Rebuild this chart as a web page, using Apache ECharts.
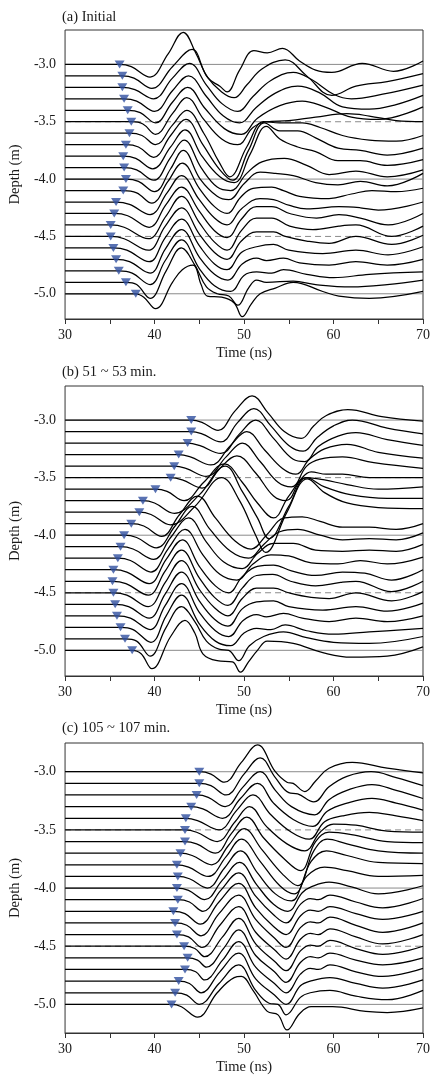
<!DOCTYPE html>
<html><head><meta charset="utf-8">
<script src="https://cdn.jsdelivr.net/npm/echarts@6/dist/echarts.min.js"></script>
<style>html,body{margin:0;padding:0;background:#fff}#c{width:433px;height:1077px}</style>
</head><body><div id="c"></div>
<script>
// ---------- DATA ----------
const TIME_MIN = 30, TIME_MAX = 70;
const TIME_TICKS = [30, 35, 40, 45, 50, 55, 60, 65, 70];
const DEPTHS = [-3.0,-3.1,-3.2,-3.3,-3.4,-3.5,-3.6,-3.7,-3.8,-3.9,-4.0,-4.1,-4.2,-4.3,-4.4,-4.5,-4.6,-4.7,-4.8,-4.9,-5.0];
const DEPTH_LABELS = [-3.0, -3.5, -4.0, -4.5, -5.0];
const SOLID_REF = [-3.0, -4.0, -5.0];
const DASHED_REF = [-3.5, -4.5];
const TITLES = ['(a) Initial', '(b) 51 ~ 53 min.', '(c) 105 ~ 107 min.'];

// first-arrival picks (ns), one per depth
const ARRIVAL_A = [36.1,36.4,36.4,36.6,37.0,37.4,37.2,36.8,36.5,36.6,36.8,36.5,35.7,35.5,35.1,35.1,35.4,35.7,36.0,36.8,37.9];
const ARRIVAL_B = [44.1,44.1,43.7,42.7,42.2,41.8,40.1,38.7,38.3,37.4,36.6,36.2,35.9,35.4,35.3,35.4,35.6,35.8,36.2,36.7,37.5];
const ARRIVAL_C = [45.0,45.0,44.7,44.1,43.5,43.4,43.4,42.9,42.5,42.6,42.5,42.6,42.1,42.3,42.5,43.3,43.7,43.4,42.7,42.3,41.9];

// trace samples after the arrival: [time ns, deflection in 0.01 m of the depth axis]
const TRACE_A = [
[[37.4,-2],[39.5,-11],[41.5,9],[43.2,28],[44.6,10],[46,-12],[47.3,-19],[48.1,-24],[49.5,-5],[51.1,12],[52.6,10],[54.3,14],[56.2,3],[58,-5],[59.8,-7],[63.2,1],[66.7,-6],[70,3]],
[[37.7,-2],[39.7,-11],[42,8],[44.2,23],[45.8,0],[47.5,-14],[48.9,-19],[50.3,-8],[52,6],[54.6,14],[57,0],[59.8,-17],[62.5,-9],[66,-5],[70,2]],
[[37.8,-2],[39.9,-10],[42,8],[43.9,21],[45.8,2],[47.5,-14],[49.3,-21],[51,-8],[53,6],[55.5,13],[57.5,7],[60,-6],[62,-10],[65.5,-6],[70,2]],
[[38,-2],[40,-11],[42,7],[43.8,20],[45.8,2],[47.7,-15],[49.5,-21],[51.3,-8],[53.5,5],[56,11],[58.5,5],[61,-7],[64,-9],[67,-5],[70,3]],
[[38.4,-2],[40.1,-11],[42,7],[43.7,20],[45.6,2],[47.8,-16],[49.7,-21],[51.5,-7],[54,4],[56.5,8],[59,3],[62,-6],[65,-8],[70,3]],
[[38.7,-2],[40.1,-11],[42,7],[43.6,21],[45.5,2],[47.5,-15],[49.3,-20],[51,-5],[52.5,0],[55,1],[58,4],[61.5,7],[64,5],[67,1],[70,0]],
[[38.6,-2],[40.1,-10],[42,7],[43.6,20],[45.5,0],[47.2,-25],[48.4,-38],[50.3,-12],[52.2,10],[54,9],[56.5,9],[58.5,5],[61,-2],[64,-6],[67,-7],[70,-2]],
[[38.2,-2],[39.9,-11],[41.8,8],[43.5,22],[45.4,0],[47.3,-22],[48.7,-31],[50.5,-5],[52.3,19],[54,12],[56,12],[58,6],[60.5,-3],[63,-5],[66,-9],[70,-3]],
[[37.9,-2],[39.8,-11],[41.8,8],[43.4,23],[45.3,0],[47.3,-18],[48.9,-23],[50.7,2],[52.5,26],[54,15],[56,8],[58,4],[60.5,-4],[63,-4],[66,-8],[70,-3]],
[[38,-2],[39.9,-11],[41.8,9],[43.3,24],[45.2,0],[47,-17],[48.5,-20],[50.3,-5],[52,5],[54.5,8],[57,2],[59.5,-6],[62.5,-3],[66,-8],[70,-2]],
[[38.2,-2],[40,-11],[41.8,9],[43.2,25],[45.1,0],[47,-15],[48.3,-18],[50,-4],[51.8,6],[53.5,5],[55.5,3],[58,-3],[60.5,-5],[63,-2],[66,-6],[70,5]],
[[38,-2],[39.7,-11],[41.5,8],[43.1,24],[45,2],[46.7,-14],[48.1,-20],[49.6,-6],[51,2],[53.1,3],[54.4,0],[56.2,-5],[59.5,-7],[62,-3],[64.3,0],[67,-1],[70,2]],
[[37.2,-2],[39.5,-11],[41.4,8],[43,23],[45,2],[46.7,-14],[48.1,-20],[49.7,-6],[51.8,3],[53.3,2],[55.1,-3],[57,-6],[60.6,-4],[63,-5],[65,-7],[70,0]],
[[37,-2],[39.4,-12],[41.3,8],[43,23],[45,2],[46.7,-15],[48.1,-21],[49.7,-5],[51.4,6],[53.1,6],[55.1,0],[58.1,-4],[60.6,-1],[63,-4],[66.1,-10],[70,0]],
[[36.6,-2],[39.3,-12],[41.3,8],[43,25],[45,2],[46.7,-15],[48.1,-22],[49.7,-5],[51.4,6],[53.1,6],[55.1,-1],[57.7,-4],[60.6,-1],[62.5,0],[66.5,-10],[70,-1]],
[[36.6,-2],[39.3,-12],[41.2,9],[43,25],[45,2],[46.7,-14],[48.1,-20],[49.7,-4],[51.4,4],[53.3,4],[54.6,0],[57,-4],[59.5,-6],[62.5,0],[66.5,-7],[70,1]],
[[36.9,-2],[39.4,-12],[41.2,9],[43,25],[45,2],[46.7,-14],[48.1,-19],[49.7,-4],[51.4,1],[53.3,3],[55,-2],[58.8,-5],[62.5,-2],[66.1,-6],[70,1]],
[[37.2,-2],[39.5,-12],[41.2,9],[43,26],[45,2],[46.7,-13],[48.2,-18],[49.8,-4],[51.4,1],[52.5,-1],[54.4,1],[56.2,-3],[59.5,-5],[62.5,-2],[66,-5],[70,0]],
[[37.5,-2],[39.5,-12],[41.2,9],[43,27],[45,2],[46.7,-13],[48.5,-18],[50,-4],[51.4,-1],[53.1,-2],[54.4,1],[57,-3],[60,-6],[64,-3],[70,-1]],
[[38,-2],[39.5,-14],[41.3,10],[43,30],[44.5,15],[45.8,-4],[47,-10],[48.3,-12],[49.3,-20],[50.5,-5],[51.4,2],[52.5,0],[55.5,1],[58,-2],[62,-4],[66,-2],[70,2]],
[[38.8,-3],[40.1,-13],[42,10],[43.1,21],[44.3,25],[45.2,8],[45.9,-2],[47.5,-3],[48.9,-8],[49.8,-20],[50.8,-9],[51.8,0],[53.5,5],[55.5,10],[58.8,2],[60.6,-2],[64,-4],[70,2]]
];

const TRACE_B = [
[[45.3,-2],[47.1,-9],[49,8],[50.9,21],[52.7,6],[54.5,-10],[56.4,-16],[57.8,-5],[59.2,4],[61.6,9],[65.4,3],[70,-1]],
[[45.3,-2],[47.4,-9],[49.3,8],[51.1,20],[53,5],[55,-12],[56.6,-17],[58.2,-5],[60,5],[62.1,10],[66,3],[70,-2]],
[[45,-2],[47.4,-9],[49.5,8],[51.3,20],[53.2,5],[55.5,-14],[56.8,-16],[58.3,-3],[60.5,6],[62.5,9],[66,3],[70,-2]],
[[44,-2],[46.3,-9],[48.5,8],[50.3,20],[52.3,4],[54.3,-12],[55.8,-17],[57.3,-4],[59,5],[61.5,9],[65,2],[70,-3]],
[[43.5,-2],[45.8,-9],[48,8],[49.8,20],[51.8,4],[53.8,-14],[55.3,-18],[57,0],[58.5,6],[61,8],[64.5,3],[70,-2]],
[[43.1,-2],[45.3,-9],[47.3,8],[49.2,19],[51.3,4],[53.3,-16],[54.7,-20],[56.3,-2],[57.5,5],[59.2,3],[61,3],[64,0],[70,0]],
[[41.4,-2],[43.3,-10],[45.5,6],[47.8,22],[49.8,6],[51.5,-12],[53.3,-25],[55,-6],[57,10],[59,8],[61.5,4],[65,0],[70,2]],
[[40,-2],[42.2,-11],[45,5],[47.9,30],[49.8,8],[51.5,-15],[52.8,-33],[55,-5],[57,20],[59,12],[62,5],[66,2],[70,2]],
[[39.6,-2],[41.8,-11],[44.5,5],[47.5,30],[49.5,10],[51.3,-20],[52.4,-35],[54.8,0],[57.1,29],[59,17],[61.5,8],[65,4],[70,3]],
[[38.8,-2],[40.8,-11],[42.8,8],[44.8,24],[46.8,5],[49,-15],[50.8,-22],[52.5,-10],[54.5,5],[56.5,6],[58.5,2],[61,-3],[64,-3],[67,-5],[70,0]],
[[38,-2],[40.2,-11],[42.3,8],[44.2,25],[46.2,5],[48.5,-14],[50.5,-20],[52.2,-8],[54,3],[56,5],[58.5,0],[61,-4],[64,-3],[67,-4],[70,2]],
[[37.6,-2],[39.9,-11],[41.8,8],[43.8,25],[45.8,4],[47.7,-13],[49.8,-19],[51.5,-6],[53.3,3],[55.5,3],[58,-3],[61,-4],[64,-3],[67,-4],[70,2]],
[[37.3,-2],[39.6,-12],[41.5,8],[43.4,25],[45.4,3],[47.3,-14],[49.2,-19],[51,-5],[53,3],[55,2],[57.5,-4],[60.5,-5],[63,-2],[66,-5],[70,1]],
[[36.9,-2],[39.4,-12],[41.3,9],[43.1,26],[45,3],[46.8,-14],[48.3,-20],[49.8,-6],[51.5,3],[53.3,4],[55.3,-1],[58,-5],[61,-2],[63.5,-3],[66.5,-9],[70,0]],
[[36.8,-2],[39.3,-12],[41.2,9],[43,27],[45,3],[46.7,-14],[48.2,-21],[49.8,-6],[51.4,5],[53.2,6],[55.2,0],[58,-4],[60.8,-1],[62.5,0],[66.5,-9],[70,0]],
[[36.9,-2],[39.3,-12],[41.2,9],[43,28],[45,3],[46.7,-13],[48.2,-20],[49.8,-5],[51.4,4],[53.3,4],[55,0],[57.5,-4],[59.5,-5],[62.5,0],[66.5,-7],[70,1]],
[[37.1,-2],[39.4,-12],[41.2,9],[43,28],[45,3],[46.7,-13],[48.2,-19],[49.8,-4],[51.4,2],[53.3,3],[55,-2],[58.8,-5],[62.5,-2],[66,-6],[70,1]],
[[37.3,-2],[39.5,-12],[41.2,9],[43,28],[45,3],[46.8,-13],[48.3,-18],[49.9,-4],[51.4,1],[52.5,-1],[54.4,2],[56.5,-2],[59.5,-5],[62.5,-2],[66,-5],[70,0]],
[[37.6,-2],[39.6,-13],[41.3,10],[43,28],[45,3],[46.8,-12],[48.5,-16],[50,-5],[51.4,-1],[53,-2],[54.6,2],[57,-3],[60,-6],[64,-4],[70,-1]],
[[38,-2],[39.5,-15],[41.3,10],[43,28],[44.5,15],[45.8,-2],[47.2,-9],[48.3,-10],[49.4,-19],[50.6,-6],[52.2,2],[54.4,6],[57,1],[60,-3],[64,-4],[70,2]],
[[38.5,-3],[39.7,-16],[41.8,12],[43.4,26],[44.5,15],[45.4,-3],[47,-9],[48.7,-10],[49.6,-19],[50.5,-10],[51.5,0],[52.6,8],[55.5,6],[58.8,-2],[62,-6],[66,-5],[70,3]]
];

const TRACE_C = [
[[46.3,-2],[47.8,-9],[49.7,8],[51.5,23],[53.5,0],[54.8,-9],[55.5,-10],[56.8,-17],[58,-8],[59.5,3],[62.1,8],[66,3],[70,-1]],
[[46.3,-2],[48,-10],[50,8],[51.8,22],[53.5,5],[55,-8],[56,-9],[57.8,-16],[59.5,-3],[61.5,6],[64.2,10],[67,5],[70,-2]],
[[46,-2],[47.9,-10],[49.9,7],[51.8,20],[53.5,4],[55.3,-10],[57.9,-17],[59.5,-4],[61.5,4],[64.3,9],[67,4],[70,-3]],
[[45.4,-2],[47.6,-10],[49.6,7],[51.5,20],[53.3,3],[55.5,-11],[57.7,-17],[59.3,-4],[61.5,3],[64.3,7],[67,3],[70,-3]],
[[44.8,-2],[47.2,-10],[49.2,7],[51,20],[53,3],[55.3,-12],[57.3,-18],[59,-3],[61,2],[64,5],[67,2],[70,-2]],
[[44.7,-2],[47,-10],[49,7],[50.6,20],[52.5,3],[54.8,-12],[56.8,-18],[58.5,-2],[60,5],[62.5,4],[66,-1],[70,-2]],
[[44.7,-2],[46.8,-10],[48.6,7],[50.3,21],[52.2,3],[54.5,-15],[56.3,-25],[58,0],[59.5,8],[62,6],[66,0],[70,-1]],
[[44.2,-2],[46.4,-10],[48.3,7],[50,21],[52,3],[54.3,-18],[56,-28],[57.8,2],[59.3,12],[61.5,8],[65,2],[70,0]],
[[43.8,-2],[46,-10],[48,7],[49.7,22],[51.8,3],[54,-18],[55.6,-25],[57.5,3],[59.2,12],[61.5,8],[65,2],[70,1]],
[[43.9,-2],[45.9,-10],[47.8,7],[49.6,22],[51.5,3],[53.5,-15],[55.3,-21],[57,0],[59,8],[61.5,5],[65,0],[70,1]],
[[43.8,-2],[45.6,-10],[47.6,7],[49.5,22],[51.4,3],[53.3,-14],[54.9,-20],[56.5,-4],[57.5,1],[59.5,5],[62,1],[65,-5],[70,2]],
[[43.9,-2],[45.4,-10],[47.4,8],[49.4,23],[51.3,3],[53.3,-13],[54.7,-20],[56.3,-4],[57.4,1],[58.3,0],[59.6,4],[62.5,-2],[65.5,-7],[70,1]],
[[43.4,-2],[45.1,-11],[47.2,8],[49.4,24],[51.3,3],[53.3,-13],[54.7,-20],[56.3,-4],[57.4,1],[58.3,0],[59.6,4],[62.5,-2],[65.5,-7],[70,0]],
[[43.6,-2],[45.2,-11],[47.2,8],[49.4,24],[51.3,3],[53.4,-13],[54.7,-21],[56.3,-4],[57.4,1],[58.3,0],[59.6,5],[62.5,-2],[65.5,-8],[70,0]],
[[43.8,-2],[45.3,-11],[47.3,8],[49.4,24],[51.3,2],[53.4,-13],[54.7,-21],[56.3,-4],[57.4,1],[58.3,0],[59.6,5],[62.5,-2],[65.5,-8],[70,0]],
[[44.5,-2],[45.6,-9],[47.6,8],[49.4,24],[51.3,2],[53.4,-13],[54.7,-21],[56.3,-4],[57.4,1],[58.3,0],[59.6,5],[62.5,-2],[65.5,-7],[70,0]],
[[44.8,-2],[45.8,-8],[47.7,8],[49.4,24],[51.3,2],[53.4,-12],[54.7,-21],[56.3,-4],[57.4,1],[58.3,0],[59.6,4],[62.5,-2],[65.5,-6],[70,0]],
[[44.6,-2],[45.6,-9],[47.6,8],[49.4,24],[51.3,2],[53.4,-12],[54.7,-20],[56.3,-4],[57.4,1],[58.3,0],[59.6,4],[62.5,-2],[65.5,-6],[70,1]],
[[43.9,-2],[45.2,-10],[47.3,8],[49.4,24],[51.3,2],[53.4,-12],[54.7,-20],[56.3,-4],[57.4,0],[59.6,3],[62.5,-2],[65.5,-6],[70,1]],
[[43.6,-2],[45,-10],[47.2,8],[49.4,24],[51.3,2],[52.8,-9],[53.8,-10],[54.7,-19],[56.3,-4],[57.4,0],[59.6,2],[62.5,-3],[66,-6],[70,2]],
[[43,-2],[44.8,-11],[47,10],[48.9,23],[49.7,24],[51,12],[52.6,-6],[53.8,-9],[54.8,-22],[56.2,-8],[57.5,-2],[59.9,-2],[63.6,-6],[66,-7],[70,-3]]
];

// ---------- LAYOUT / STYLE ----------
const PANELS = [
  {arr: ARRIVAL_A, tr: TRACE_A},
  {arr: ARRIVAL_B, tr: TRACE_B},
  {arr: ARRIVAL_C, tr: TRACE_C}
];
const BOX = [
  {top: 30, height: 289, ymin: -5.22, ymax: -2.70, titleTop: 10},
  {top: 386, height: 290, ymin: -5.223, ymax: -2.704, titleTop: 365},
  {top: 743, height: 290, ymin: -5.246, ymax: -2.753, titleTop: 721}
];
const FONT = 'Liberation Serif';
const TXT = '#1a1a1a';

const grids = [], xAxes = [], yAxes = [], series = [], titles = [];
PANELS.forEach((p, i) => {
  const b = BOX[i];
  grids.push({left: 62, width: 363, top: b.top, height: b.height, show: true,
    borderColor: '#333', borderWidth: 1, backgroundColor: 'transparent'});
  titles.push({text: TITLES[i], left: 62, top: b.titleTop, padding: 0,
    textStyle: {fontFamily: FONT, fontSize: 14.5, fontWeight: 'normal', color: TXT}});
  xAxes.push({type: 'value', gridIndex: i, min: TIME_MIN, max: TIME_MAX, interval: 5,
    name: 'Time (ns)', nameLocation: 'middle', nameGap: 27,
    nameTextStyle: {fontFamily: FONT, fontSize: 14.5, color: TXT},
    axisLine: {show: true, lineStyle: {color: '#333', width: 1}},
    axisTick: {show: true, inside: false, length: 5, lineStyle: {color: '#333'}},
    axisLabel: {fontFamily: FONT, fontSize: 14, color: TXT, margin: 9,
      formatter: v => (v % 10 === 0 ? String(v) : '')},
    splitLine: {show: false}});
  yAxes.push({type: 'value', gridIndex: i, min: b.ymin, max: b.ymax,
    name: 'Depth (m)', nameLocation: 'middle', nameGap: 38, nameRotate: 90,
    nameTextStyle: {fontFamily: FONT, fontSize: 14.5, color: TXT},
    axisLine: {show: false}, axisTick: {show: false},
    axisLabel: {fontFamily: FONT, fontSize: 14, color: TXT, margin: 9,
      customValues: DEPTH_LABELS, formatter: v => Number(v).toFixed(1)},
    splitLine: {show: false}});
  SOLID_REF.forEach(v => series.push({type: 'line', xAxisIndex: i, yAxisIndex: i, silent: true,
    data: [[TIME_MIN, v], [TIME_MAX, v]], symbol: 'none', z: 1,
    lineStyle: {color: '#8a8a8a', width: 1}}));
  DASHED_REF.forEach(v => series.push({type: 'line', xAxisIndex: i, yAxisIndex: i, silent: true,
    data: [[TIME_MIN, v], [TIME_MAX, v]], symbol: 'none', z: 1,
    lineStyle: {color: '#8a8a8a', width: 1, type: [6, 4]}}));
  p.tr.forEach((pts, k) => {
    const base = DEPTHS[k];
    const data = [[TIME_MIN, base], [p.arr[k], base]].concat(pts.map(q => [q[0], base + q[1] / 100]));
    series.push({type: 'line', xAxisIndex: i, yAxisIndex: i, data, symbol: 'none',
      smooth: 0.4, z: 3, silent: true, lineStyle: {color: '#000', width: 1.25}});
  });
  series.push({type: 'scatter', xAxisIndex: i, yAxisIndex: i, z: 5, silent: true,
    data: p.arr.map((t, k) => [t, DEPTHS[k]]),
    symbol: 'triangle', symbolRotate: 180, symbolSize: [10, 8],
    itemStyle: {color: '#2f4f9f'}});
});

const chart = echarts.init(document.getElementById('c'), null, {renderer: 'canvas'});
chart.setOption({animation: false, backgroundColor: '#fff', title: titles,
  grid: grids, xAxis: xAxes, yAxis: yAxes, series});
</script></body></html>
